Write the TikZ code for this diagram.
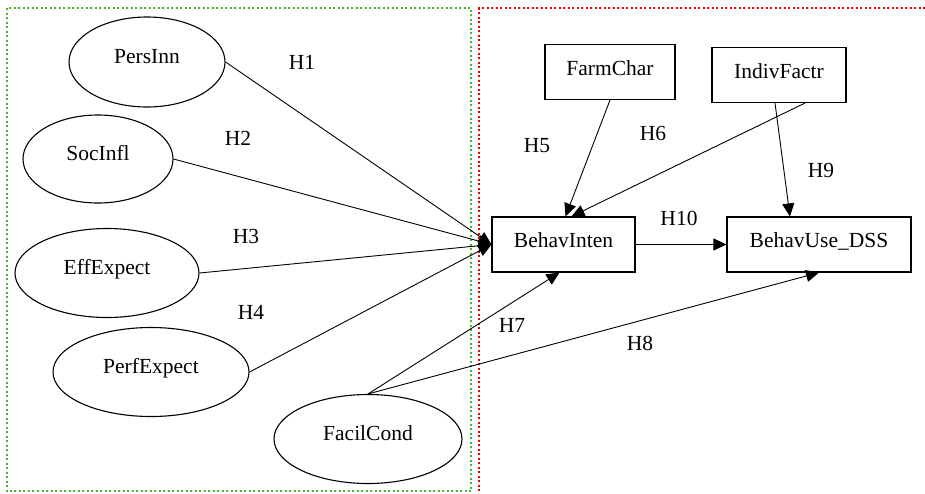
\documentclass[tikz,border=0pt]{standalone}
\usepackage{fontspec}
\setmainfont{Liberation Serif}
\usetikzlibrary{arrows.meta,shapes.geometric}

\definecolor{grpgreen}{RGB}{80,176,52}
\definecolor{grpred}{RGB}{240,0,0}

\tikzset{
  factor/.style={ellipse,draw,line width=1.1pt,inner sep=0pt,text height=15pt,text depth=13pt},
  block/.style={rectangle,draw,line width=1.1pt,inner sep=0pt,minimum height=55pt,text height=15pt,text depth=9pt},
  hyp/.style={line width=0.9pt,-{Triangle[length=13pt,width=12pt]}},
  hlabel/.style={inner sep=0pt},
  grp/.style={line width=2pt,dash pattern=on 2pt off 2.5pt},
}

\begin{document}
\begin{tikzpicture}[x=1pt,y=-1pt,font=\fontsize{21.5}{26}\selectfont]
  \useasboundingbox (0,0) rectangle (925,493);

  % ================= group frames =================
  \draw[grp,grpgreen] (7,8) rectangle (471,491);
  \draw[grp,grpred] (479,500) -- (479,8) -- (930,8);

  % ================= left side: ellipses =================
  \node[factor,minimum width=156pt,minimum height=90pt] (pi) at (147,62) {PersInn};
  \node[factor,minimum width=150pt,minimum height=88pt] (si) at (98,159) {SocInfl};
  \node[factor,minimum width=184pt,minimum height=89pt] (ee) at (107,273) {EffExpect};
  \node[factor,minimum width=196pt,minimum height=89pt] (pe) at (151,372) {PerfExpect};
  \node[factor,minimum width=188pt,minimum height=89pt] (fc) at (368,439) {FacilCond};

  % ================= right side: boxes =================
  \node[block,minimum width=130pt] (farm) at (610,72) {FarmChar};
  \node[block,minimum width=134pt] (indiv) at (779,75) {IndivFactr};
  \node[block,minimum width=143pt] (bi) at (563.5,244.5) {BehavInten};
  \node[block,minimum width=184pt] (bu) at (819,244.5) {BehavUse\_DSS};

  % ================= hypotheses =================
  \draw[hyp] (pi.east) -- (bi.west);
  \draw[hyp] (si.east) -- (bi.west);
  \draw[hyp] (ee.east) -- (bi.west);
  \draw[hyp] (pe.east) -- (bi.west);
  \draw[hyp] (farm.south) -- ([xshift=2pt]bi.north);
  \draw[hyp] ([xshift=26pt]indiv.south) -- ([xshift=8pt]bi.north);
  \draw[hyp] (fc.north) -- ([xshift=-4pt]bi.south);
  \draw[hyp] (fc.north) -- (bu.south);
  \draw[hyp] ([xshift=-4pt]indiv.south) -- ([xshift=-29pt]bu.north);
  \draw[hyp] (bi.east) -- (bu.west);

  % labels
  \node[hlabel] (h1) at (302,62) {H1};
  \node[hlabel] (h2) at (238,138) {H2};
  \node[hlabel] (h3) at (246,236) {H3};
  \node[hlabel] (h4) at (251,312) {H4};
  \node[hlabel] (h5) at (537,146) {H5};
  \node[hlabel] (h6) at (653,133) {H6};
  \node[hlabel] (h7) at (512,325) {H7};
  \node[hlabel] (h8) at (640,343) {H8};
  \node[hlabel] (h9) at (821,170) {H9};
  \node[hlabel] (h10) at (679,218) {H10};
\end{tikzpicture}
\end{document}
